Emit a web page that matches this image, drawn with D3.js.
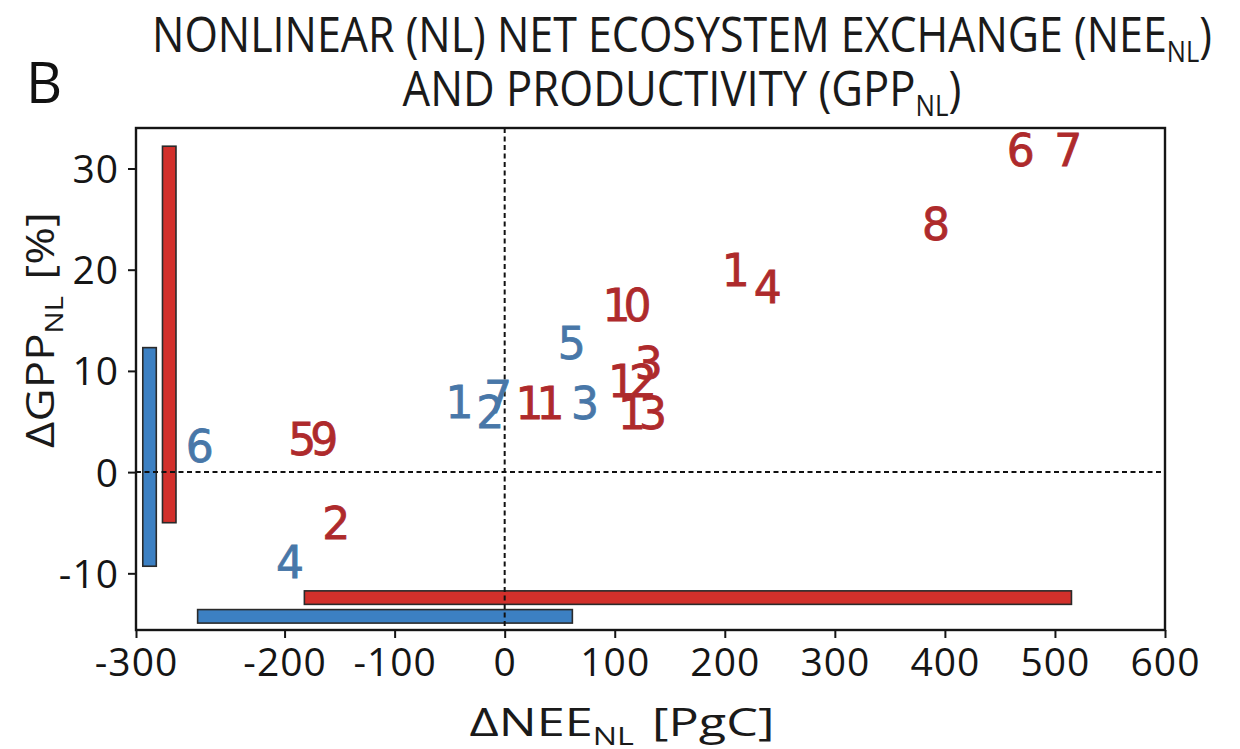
<!DOCTYPE html>
<html><head><meta charset="utf-8">
<script src="https://cdn.jsdelivr.net/npm/d3@7"></script>
<style>body{margin:0;background:#fff} svg{display:block}</style>
</head><body><svg id="c" width="1240" height="749"></svg>
<script>
// ---------------- data ----------------
const blueLabels = ["1","2","3","4","5","6","7"];
const blueNEE    = [-41, -13, 73, -195, 61, -277, -6];
const blueGPP    = [6.9, 5.9, 6.8, -8.9, 12.7, 2.6, 7.4];

const redLabels  = ["1","2","3","4","5","6","7","8","9","10","11","12","13"];
const redNEE     = [210, -153, 131, 239, -184, 469, 512, 392, -164, 108, 29, 113, 122];
const redGPP     = [20.0, -5.0, 10.8, 18.3, 3.3, 31.85, 31.85, 24.5, 3.3, 16.5, 6.8, 9.0, 5.85];

// ensemble ranges (blue, red)
const rangeGroups  = ["blue", "red"];
const neeRangeMin  = [-279, -182];
const neeRangeMax  = [61.5, 515];
const gppRangeMin  = [-9.3, -5.0];
const gppRangeMax  = [12.3, 32.2];
const gppBarAtNEE  = [-322.7, -304.8];   // where the vertical GPP range bars sit
const neeBarAtGPP  = [-14.25, -12.4];    // where the horizontal NEE range bars sit

const xDomain = [-335, 600];
const yDomain = [-15.6, 34];
const xTickValues = [-335, -200, -100, 0, 100, 200, 300, 400, 500, 600];
const xTickLabels = ["-300", "-200", "-100", "0", "100", "200", "300", "400", "500", "600"];
const yTickValues = [-10, 0, 10, 20, 30];
const yTickLabels = ["-10", "0", "10", "20", "30"];

// ---------------- drawing ----------------
const svg = d3.select("#c");
const L = 136, R = 1165, T = 128, B = 630;
const x = d3.scaleLinear().domain(xDomain).range([L, R]);
const y = d3.scaleLinear().domain(yDomain).range([B, T]);

const colLabel = {blue: "#4877a8", red: "#ae2a2c"};
const colBar = {blue: "#3c80c3", red: "#d2302b"};
const axisFont = "'Open Sans', 'Noto Sans', sans-serif";
const barT = 13.5;

// range bars
const g = svg.append("g");
rangeGroups.forEach((grp, i) => {
  g.append("rect")
    .attr("x", x(gppBarAtNEE[i]) - barT / 2)
    .attr("width", barT)
    .attr("y", y(gppRangeMax[i]))
    .attr("height", y(gppRangeMin[i]) - y(gppRangeMax[i]))
    .attr("fill", colBar[grp]).attr("stroke", "#2a2a2a").attr("stroke-width", 1.6);
  g.append("rect")
    .attr("x", x(neeRangeMin[i]))
    .attr("width", x(neeRangeMax[i]) - x(neeRangeMin[i]))
    .attr("y", y(neeBarAtGPP[i]) - barT / 2)
    .attr("height", barT)
    .attr("fill", colBar[grp]).attr("stroke", "#2a2a2a").attr("stroke-width", 1.6);
});

// zero lines
svg.append("line").attr("x1", x(0)).attr("x2", x(0)).attr("y1", T).attr("y2", B)
  .attr("stroke", "#111").attr("stroke-width", 2).attr("stroke-dasharray", "5,3.5");
svg.append("line").attr("x1", L).attr("x2", R).attr("y1", y(0)).attr("y2", y(0))
  .attr("stroke", "#111").attr("stroke-width", 2).attr("stroke-dasharray", "5,3.5");

// labels as markers
const lblFont = "'DejaVu Sans', sans-serif";
const lblSize = 44;
function drawLabels(labels, xs, ys, grp) {
  svg.append("g").selectAll("text").data(labels).join("text")
    .attr("x", (d, i) => x(xs[i]))
    .attr("y", (d, i) => y(ys[i]) + lblSize * 0.36)
    .attr("text-anchor", "middle")
    .attr("font-family", lblFont)
    .attr("font-size", lblSize)
    .attr("letter-spacing", d => d.length > 1 ? -7 : 0)
    .attr("fill", colLabel[grp])
    .attr("stroke", colLabel[grp]).attr("stroke-width", 0.8)
    .text(d => d);
}
drawLabels(blueLabels, blueNEE, blueGPP, "blue");
drawLabels(redLabels, redNEE, redGPP, "red");

// frame
svg.append("rect").attr("x", L).attr("y", T).attr("width", R - L).attr("height", B - T)
  .attr("fill", "none").attr("stroke", "#151515").attr("stroke-width", 2.4);

// axes
const xAxis = svg.append("g").attr("transform", `translate(0,${B})`)
  .call(d3.axisBottom(x).tickValues(xTickValues).tickFormat((d, i) => xTickLabels[i]).tickSize(8).tickSizeOuter(0));
const yAxis = svg.append("g").attr("transform", `translate(${L},0)`)
  .call(d3.axisLeft(y).tickValues(yTickValues).tickFormat((d, i) => yTickLabels[i]).tickSize(8).tickSizeOuter(0));
[xAxis, yAxis].forEach(a => {
  a.select(".domain").remove();
  a.selectAll(".tick line").attr("stroke", "#151515").attr("stroke-width", 2);
  a.selectAll(".tick text").attr("font-family", axisFont).attr("font-size", 39)
    .attr("fill", "#151515").attr("letter-spacing", 1);
});
xAxis.selectAll(".tick text").attr("y", 46).attr("dy", 0);
yAxis.selectAll(".tick text").attr("x", -17).attr("dy", 14);

// helper to squeeze text horizontally to a target width
function fitWidth(sel, cx, target) {
  const w = sel.node().getBBox().width;
  const s = target / w;
  sel.attr("transform", `translate(${cx},0) scale(${s},1) translate(${-cx},0)`);
}
function fitWidthRot(sel, target) {
  const w = sel.node().getBBox().width;
  return target / w;
}

// title
const t1 = svg.append("text").attr("x", 682).attr("y", 52).attr("text-anchor", "middle")
  .attr("font-family", axisFont).attr("font-size", 49).attr("fill", "#1a1a1a");
t1.append("tspan").text("NONLINEAR (NL) NET ECOSYSTEM EXCHANGE (NEE");
t1.append("tspan").attr("font-size", 29).attr("dy", 10).text("NL");
t1.append("tspan").attr("dy", -10).text(")");
fitWidth(t1, 682, 1060);

const t2 = svg.append("text").attr("x", 682).attr("y", 106).attr("text-anchor", "middle")
  .attr("font-family", axisFont).attr("font-size", 49).attr("fill", "#1a1a1a");
t2.append("tspan").text("AND PRODUCTIVITY (GPP");
t2.append("tspan").attr("font-size", 29).attr("dy", 10).text("NL");
t2.append("tspan").attr("dy", -10).text(")");
fitWidth(t2, 682, 559);

// panel letter
svg.append("text").attr("x", 26).attr("y", 103).attr("font-family", axisFont)
  .attr("font-size", 56).attr("fill", "#111").text("B");

// x label
const xl = svg.append("text").attr("x", 622).attr("y", 736).attr("text-anchor", "middle")
  .attr("font-family", axisFont).attr("font-size", 39).attr("fill", "#1a1a1a");
xl.append("tspan").text("ΔNEE");
xl.append("tspan").attr("font-size", 25).attr("dy", 9).text("NL");
xl.append("tspan").attr("dy", -9).attr("dx", 14).text("[PgC]");
fitWidth(xl, 622, 305);

// y label
const yl = svg.append("text").attr("x", 0).attr("y", 0).attr("text-anchor", "middle")
  .attr("font-family", axisFont).attr("font-size", 39).attr("fill", "#1a1a1a");
yl.append("tspan").text("ΔGPP");
yl.append("tspan").attr("font-size", 25).attr("dy", 9).text("NL");
yl.append("tspan").attr("dy", -9).attr("dx", 14).text("[%]");
const sy = fitWidthRot(yl, 236);
yl.attr("transform", `translate(54,330) rotate(-90) scale(${sy},1)`);
</script></body></html>
